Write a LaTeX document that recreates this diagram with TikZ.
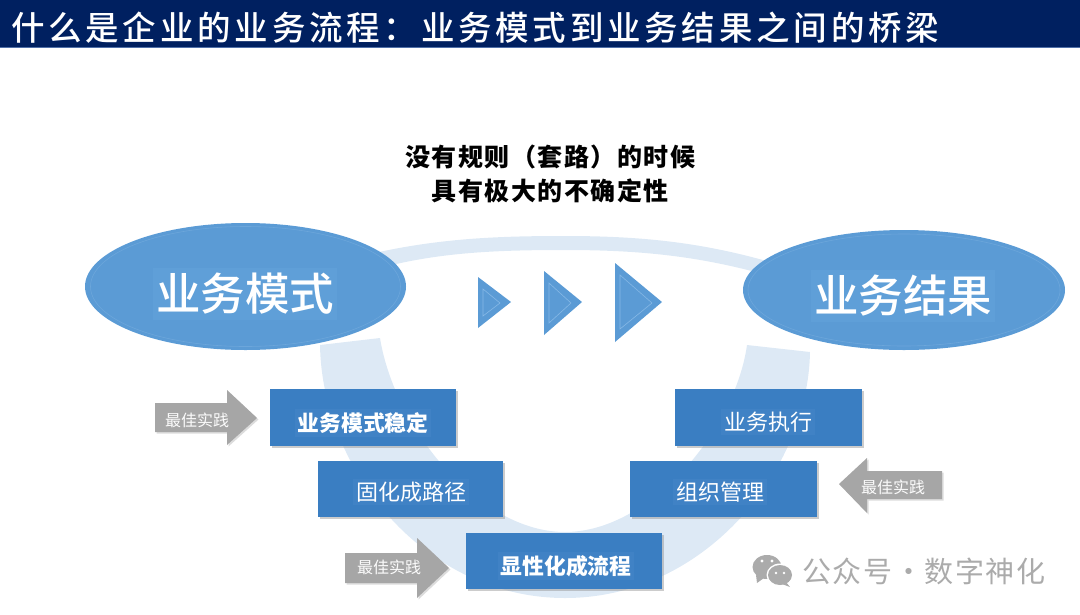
\documentclass[tikz,border=0pt]{standalone}
\usepackage{fontspec}
\setmainfont{Noto Sans CJK SC}
\newfontfamily\midfont{Noto Sans CJK SC Medium}
\newfontfamily\titlefont[LetterSpace=11.25]{Noto Sans CJK SC Medium}
\newfontfamily\headfont[LetterSpace=6]{Noto Sans CJK SC}
\newfontfamily\markfont[LetterSpace=5]{Noto Sans CJK SC}
\usetikzlibrary{shapes.geometric}
\definecolor{navy}{HTML}{002060}
\definecolor{navyline}{HTML}{5070A8}
\definecolor{ringblue}{HTML}{DDE9F5}
\definecolor{ellblue}{HTML}{5B9BD5}
\definecolor{ellhalo}{HTML}{5F9FD8}
\definecolor{ellline}{HTML}{6CA6DB}
\definecolor{triline}{HTML}{86B8E6}
\definecolor{boxblue}{HTML}{3A7EC2}
\definecolor{boxhalo}{HTML}{4082C5}
\definecolor{arrowgray}{HTML}{A6A6A6}
\definecolor{markgray}{HTML}{ABABAB}
\tikzset{
  x=1pt,y=-1pt,
  oval/.style={ellipse,fill=ellblue,minimum width=321pt,inner sep=0pt},
  ovaltext/.style={fill=ellhalo,text=white,inner xsep=3pt,inner ysep=0pt,minimum height=52pt,font=\midfont\fontsize{44.5}{44.5}\selectfont},
  tri/.style={fill=ellblue},
  triedge/.style={draw=triline,line width=0.6pt},
  stepbox/.style={fill=boxblue,minimum width=186pt,minimum height=57pt,inner sep=0pt,drop},
  steptext/.style={fill=boxhalo,text=white,inner sep=3pt,font=\fontsize{22}{22}\selectfont},
  drop/.style={preaction={fill=black!40,opacity=.5,transform canvas={shift={(1.5pt,-2pt)}}}},
  grayarrow/.style={fill=arrowgray,preaction={fill=black!30,opacity=.45,transform canvas={shift={(1.5pt,-1.5pt)}}}},
  graytext/.style={text=white!95!arrowgray,font=\fontsize{16}{16}\selectfont,inner sep=0pt},
}
\begin{document}
\begin{tikzpicture}
\useasboundingbox (0,0) rectangle (1080,614);
% title bar
\fill[navy] (0,0) rectangle (1080,47);
\fill[navyline] (0,47) rectangle (1080,48.2);
\node[anchor=west,inner sep=0pt,text=white,font=\titlefont\fontsize{33.5}{33.5}\selectfont] (title) at (11,28) {什么是企业的业务流程：业务模式到业务结果之间的桥梁};
% ring
\fill[ringblue] (320,345) .. controls (322,470) and (425,598) .. (565,598)
  .. controls (705,598) and (808,470) .. (810,352) -- (747,345)
  .. controls (735,430) and (650,532) .. (565,532)
  .. controls (480,532) and (395,430) .. (380,338) -- cycle;
\fill[ringblue] (370,254) .. controls (440,238) and (500,236) .. (565,236)
  .. controls (640,236) and (700,242) .. (770,262) -- (770,276)
  .. controls (700,256) and (640,250) .. (565,250)
  .. controls (500,250) and (440,252) .. (380,268) -- cycle;
% heading
\node[inner sep=0pt,align=center,font=\headfont\bfseries\fontsize{25}{34}\selectfont] (head) at (550,174) {没有规则（套路）的时候\\具有极大的不确定性};
% ellipses
\node[oval,minimum height=127pt] (model) at (245.5,286.5) {};
\node[oval,minimum height=120pt,minimum width=322pt] (result) at (904,290) {};
\draw[ellline,line width=.6pt] (245.5,286.5) ellipse [x radius=155,y radius=60];
\draw[ellline,line width=.6pt] (904,290) ellipse [x radius=156,y radius=56];
\node[ovaltext] (modeltext) at (245,294) {业务模式};
\node[ovaltext] (resulttext) at (903,296) {业务结果};
% triangles
\fill[tri] (478,277) -- (511,302) -- (478,328) -- cycle;
\draw[triedge] (483,289) -- (500,303) -- (483,316) -- cycle;
\fill[tri] (544,271) -- (582,302) -- (544,335) -- cycle;
\draw[triedge] (549,283) -- (571,303) -- (549,323) -- cycle;
\fill[tri] (615,263) -- (662,302) -- (615,342) -- cycle;
\draw[triedge] (620,275) -- (652,303) -- (620,329) -- cycle;
% boxes
\node[stepbox,minimum width=186pt] (b1) at (363,417.5) {};
\node[stepbox,minimum width=185pt,minimum height=56pt] (b2) at (410.5,489) {};
\node[stepbox,minimum width=196pt,minimum height=56pt] (b3) at (564,561) {};
\node[stepbox,minimum width=187pt] (b4) at (768.5,417.5) {};
\node[stepbox,minimum width=187pt,minimum height=56pt] (b5) at (723.5,489) {};
\node[steptext,font=\bfseries\fontsize{21.8}{22}\selectfont] (t1) at (363,423) {业务模式稳定};
\node[steptext] (t2) at (411,492) {固化成路径};
\node[steptext,font=\bfseries\fontsize{21.8}{22}\selectfont] (t3) at (566,566) {显性化成流程};
\node[steptext] (t4) at (768,422) {业务执行};
\node[steptext] (t5) at (720,492) {组织管理};
% gray arrows
\fill[grayarrow] (155,403) -- (227,403) -- (227,390) -- (257,418) -- (227,445) -- (227,432) -- (155,432) -- cycle;
\node[graytext] (a1) at (197,420) {最佳实践};
\fill[grayarrow] (345,553) -- (417,553) -- (417,538) -- (449,568) -- (417,598) -- (417,583) -- (345,583) -- cycle;
\node[graytext] (a3) at (389,567) {最佳实践};
\fill[grayarrow] (942,471) -- (867,471) -- (867,458) -- (839,484) -- (867,513) -- (867,499) -- (942,499) -- cycle;
\node[graytext] (a2) at (893,487) {最佳实践};
% watermark
\fill[markgray] (767,567) ellipse [x radius=14.5,y radius=12];
\fill[markgray] (756,575) -- (757,583) -- (764,578) -- cycle;
\fill[white] (780,575) ellipse [x radius=13.5,y radius=11.5];
\fill[markgray] (780,575) ellipse [x radius=12,y radius=10];
\fill[markgray] (786,582) -- (790,587) -- (782,584) -- cycle;
\fill[white] (762,561) circle (1.7) (772,561) circle (1.7) (776,573) circle (1.4) (784,573) circle (1.4);
\node[anchor=west,inner sep=0pt,text=markgray,font=\markfont\fontsize{29}{29}\selectfont] (mark) at (802,571) {公众号\hspace{-6pt} · \hspace{-6pt}数字神化};
\end{tikzpicture}
\end{document}
